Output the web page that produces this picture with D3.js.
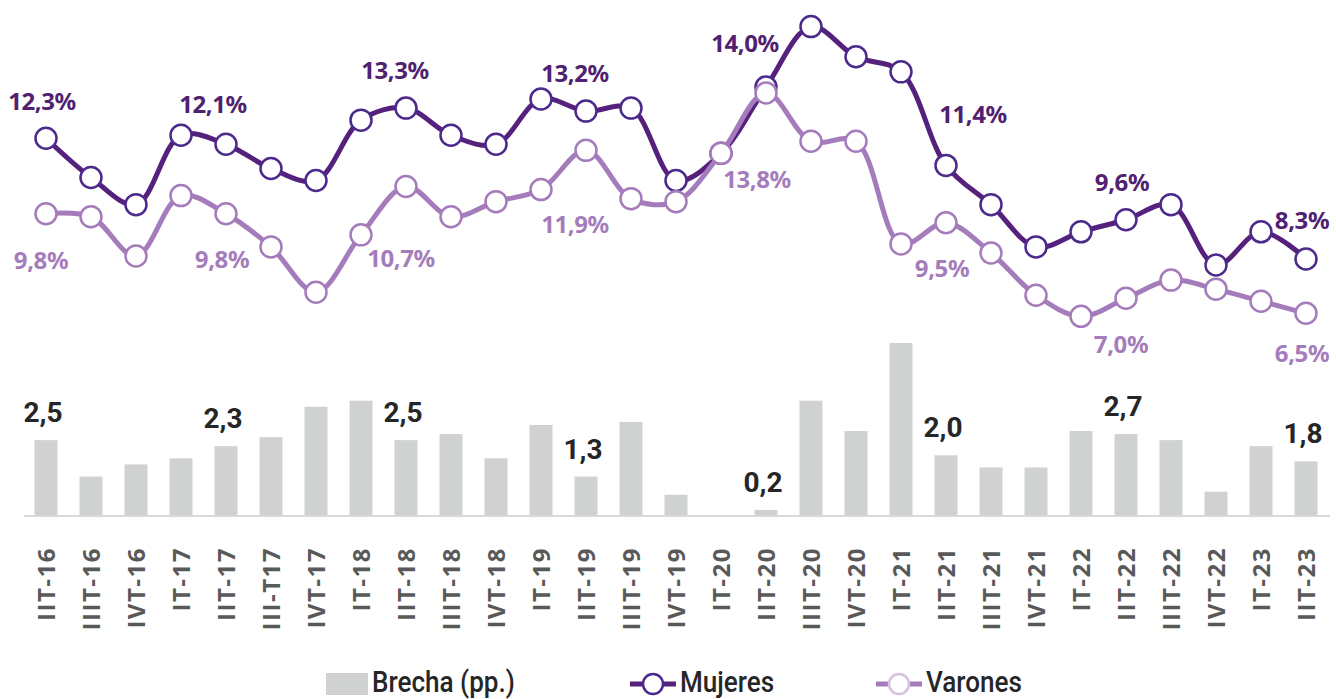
<!DOCTYPE html>
<html>
<head>
<meta charset="utf-8">
<script src="https://cdn.jsdelivr.net/npm/d3@7"></script>
<style>
  body { margin: 0; background: #fff; }
  svg { display: block; }
</style>
</head>
<body>
<svg id="chart" width="1336" height="699"></svg>
<script>
// quarters
const cats = ["IIT-16","IIIT-16","IVT-16","IT-17","IIT-17","III-T17","IVT-17","IT-18","IIT-18","IIIT-18",
  "IVT-18","IT-19","IIT-19","IIIT-19","IVT-19","IT-20","IIT-20","IIIT-20","IVT-20","IT-21",
  "IIT-21","IIIT-21","IVT-21","IT-22","IIT-22","IIIT-22","IVT-22","IT-23","IIT-23"];

// desocupacion (%)
const mujeres = [12.3,11.0,10.1,12.4,12.1,11.3,10.9,12.9,13.3,12.4,
  12.1,13.6,13.2,13.3,10.9,11.8,14.0,16.0,15.0,14.5,
  11.4,10.1,8.7,9.2,9.6,10.1,8.1,9.2,8.3];
const varones = [9.8,9.7,8.4,10.4,9.8,8.7,7.2,9.1,10.7,9.7,
  10.2,10.6,11.9,10.3,10.2,11.8,13.8,12.2,12.2,8.8,
  9.5,8.5,7.1,6.4,7.0,7.6,7.3,6.9,6.5];
// brecha (pp.)
const brecha = [2.5,1.3,1.7,1.9,2.3,2.6,3.6,3.8,2.5,2.7,
  1.9,3.0,1.3,3.1,0.7,0.0,0.2,3.8,2.8,5.7,
  2.0,1.6,1.6,2.8,2.7,2.5,0.8,2.3,1.8];

// which points carry a label (every IIT)
const labelIdx = [0,4,8,12,16,20,24,28];

// label nudges [dx, dy] from the point
const mujNudge = {0:[-4,-28],4:[-13,-31],8:[-11,-29],12:[-11,-29],16:[-21,-35],20:[27,-42],24:[-4,-29],28:[-4,-30]};
const varNudge = {0:[-5,55],4:[-4,54],8:[-5,80],12:[-11,83],16:[-9,95],20:[-4,54],24:[-5,55],28:[-4,49]};

const C_MUJ = "#55217d", C_MUJ_DOT = "#4b2a8c", C_VAR = "#a57cbb", C_BAR = "#d0d1d1";
const fmt = v => d3.format(".1f")(v).replace(".", ",");

const svg = d3.select("#chart");

const x = d3.scaleBand().domain(cats).range([23.5, 1328.5]).paddingInner(0.49).paddingOuter(0.245);
const cx = d => x(d) + x.bandwidth() / 2;
const y = d3.scaleLinear().domain([6, 16]).range([328.4, 26.6]);
const yb = d3.scaleLinear().domain([0, 6]).range([516, 333.9]);

// bars
svg.append("g").selectAll("rect")
  .data(brecha)
  .join("rect")
  .attr("x", (d, i) => x(cats[i]))
  .attr("width", x.bandwidth())
  .attr("y", d => yb(d))
  .attr("height", d => yb(0) - yb(d))
  .attr("fill", C_BAR);

svg.append("line")
  .attr("x1", 24).attr("x2", 1330)
  .attr("y1", yb(0)).attr("y2", yb(0))
  .attr("stroke", "#d9d9d9").attr("stroke-width", 2);

svg.append("g").selectAll("text")
  .data(labelIdx)
  .join("text")
  .attr("x", i => cx(cats[i]) - 3)
  .attr("y", i => yb(brecha[i]) - 18)
  .attr("text-anchor", "middle")
  .attr("font-family", "Roboto, sans-serif")
  .attr("font-weight", "bold")
  .attr("font-size", 28)
  .attr("fill", "#262626")
  .text(i => fmt(brecha[i]));

// x axis labels
const xAxis = svg.append("g")
  .attr("transform", `translate(0,${yb(0)})`)
  .call(d3.axisBottom(x).tickSize(0).tickPadding(0));
xAxis.select(".domain").remove();
xAxis.selectAll("text")
  .attr("transform", "rotate(-90)")
  .attr("text-anchor", "end")
  .attr("x", -31)
  .attr("y", 0)
  .attr("dy", "0.36em")
  .attr("font-family", "'Open Sans', 'Noto Sans', sans-serif")
  .attr("font-weight", "bold")
  .attr("font-size", 24)
  .attr("letter-spacing", 1.5)
  .attr("fill", "#595959");

// lines
const line = vals => d3.line()
  .x((d, i) => cx(cats[i]))
  .y(d => y(d))
  .curve(d3.curveCatmullRom.alpha(0.5))(vals);

function series(vals, color, dotStroke) {
  const g = svg.append("g");
  g.append("path")
    .attr("d", line(vals))
    .attr("fill", "none")
    .attr("stroke", color)
    .attr("stroke-width", 5);
  g.selectAll("circle")
    .data(vals)
    .join("circle")
    .attr("cx", (d, i) => cx(cats[i]))
    .attr("cy", d => y(d))
    .attr("r", 10.5)
    .attr("fill", "#fff")
    .attr("stroke", dotStroke)
    .attr("stroke-width", 2.5);
}
series(mujeres, C_MUJ, C_MUJ_DOT);
series(varones, C_VAR, C_VAR);

function seriesLabels(vals, nudge, color) {
  svg.append("g").selectAll("text")
    .data(labelIdx)
    .join("text")
    .attr("x", i => cx(cats[i]) + nudge[i][0])
    .attr("y", i => y(vals[i]) + nudge[i][1])
    .attr("text-anchor", "middle")
    .attr("font-family", "'Noto Sans', sans-serif")
    .attr("font-weight", "bold")
    .attr("font-size", 24)
    .attr("letter-spacing", -0.4)
    .attr("fill", color)
    .text(i => fmt(vals[i]) + "%");
}
seriesLabels(mujeres, mujNudge, "#4f2170");
seriesLabels(varones, varNudge, C_VAR);

// legend
const leg = svg.append("g")
  .attr("font-family", "Roboto, sans-serif")
  .attr("font-size", 29)
  .attr("font-weight", 500)
  .attr("fill", "#262626");
const legText = (lx, s) => leg.append("text")
  .attr("transform", `translate(${lx},692) scale(0.9,1)`)
  .text(s);

leg.append("rect").attr("x", 326).attr("y", 673).attr("width", 42).attr("height", 22).attr("fill", C_BAR);
legText(372, "Brecha (pp.)");

[[630, "Mujeres", C_MUJ, C_MUJ_DOT], [876, "Varones", C_VAR, "#d5c0e0"]].forEach(([lx, name, col, dot]) => {
  leg.append("line").attr("x1", lx).attr("x2", lx + 46).attr("y1", 684).attr("y2", 684)
    .attr("stroke", col).attr("stroke-width", 5);
  leg.append("circle").attr("cx", lx + 23).attr("cy", 684).attr("r", 10)
    .attr("fill", "#fff").attr("stroke", dot).attr("stroke-width", 2.5);
  legText(lx + 50, name);
});
</script>
</body>
</html>
